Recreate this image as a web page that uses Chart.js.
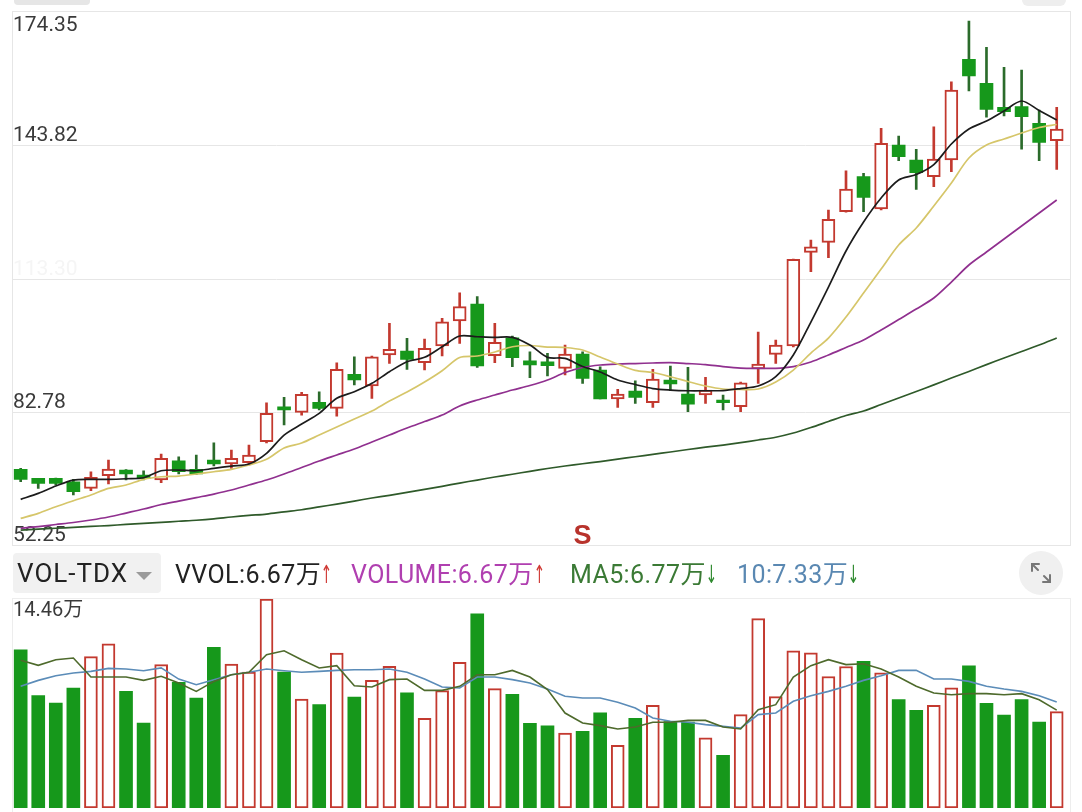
<!DOCTYPE html>
<html>
<head>
<meta charset="utf-8">
<script src="https://cdn.jsdelivr.net/npm/chart.js@4.4.0/dist/chart.umd.min.js"></script>
<style>
  body { margin: 0; background: #fff; width: 1082px; height: 812px; overflow: hidden; position: relative;
         font-family: Roboto, "Noto Sans CJK SC", sans-serif; }
  canvas { position: absolute; left: 0; }
  #main { top: 0; }
  #vol { top: 590px; }
  .pill { position: absolute; background: #e6e6e6; border-radius: 4px; }
  .box { position: absolute; left: 13px; top: 553px; width: 148px; height: 40px; background: #f1f1f1; border-radius: 4px; }
  .t { position: absolute; top: 562px; font-size: 25px; line-height: 25px; white-space: nowrap; letter-spacing: 0.4px; }
  .ar { display: inline-block; transform: scaleX(0.55); margin-left: -5px; font-family: "DejaVu Sans", sans-serif; }
  .tri { position: absolute; left: 136px; top: 572px; width: 0; height: 0;
         border-left: 8px solid transparent; border-right: 8px solid transparent; border-top: 8px solid #9a9a9a; }
  .expand { position: absolute; left: 1019px; top: 551px; width: 44px; height: 44px; border-radius: 50%; background: #f0f0f0; }
</style>
</head>
<body>
<div class="pill" style="left:14px;top:-4px;width:76px;height:9px;"></div>
<div class="pill" style="left:1022px;top:-6px;width:44px;height:12px;border-radius:6px;background:#eeeeee;"></div>

<canvas id="main" width="1082" height="560"></canvas>

<div class="box"></div>
<div class="t" style="left:17px;top:561px;font-size:26px;letter-spacing:1px;color:#222;">VOL-TDX</div>
<div class="tri"></div>
<div class="t" style="left:175px;color:#222;">VVOL:6.67万<span class="ar" style="color:#d03a35">↑</span></div>
<div class="t" style="left:351px;color:#b03fb0;">VOLUME:6.67万<span class="ar" style="color:#d03a35">↑</span></div>
<div class="t" style="left:570px;color:#3b7a35;">MA5:6.77万<span class="ar" style="color:#2f8a2f">↓</span></div>
<div class="t" style="left:737px;color:#5a88b2;">10:7.33万<span class="ar" style="color:#2f8a2f">↓</span></div>
<div class="expand">
  <svg width="44" height="44" viewBox="0 0 44 44">
    <g stroke="#777" stroke-width="2" fill="none" stroke-linecap="round">
      <polyline points="13,20 13,13 20,13"/><line x1="13" y1="13" x2="19" y2="19"/>
      <polyline points="31,24 31,31 24,31"/><line x1="31" y1="31" x2="25" y2="25"/>
    </g>
  </svg>
</div>

<canvas id="vol" width="1082" height="222"></canvas>

<script>
// candles
var opens = [69.58,67.52,67.52,66.74,65.23,68.12,69.42,68.28,67.13,71.55,69.58,71.71,70.80,71.10,75.91,83.93,82.64,84.93,83.56,91.35,88.67,95.77,96.69,94.01,97.83,103.56,107.45,95.61,99.73,94.46,94.23,92.72,96.00,92.33,85.69,87.52,84.84,90.04,86.83,86.61,85.46,83.93,92.56,95.93,97.83,119.30,121.59,128.60,136.62,129.22,143.88,140.44,136.62,140.44,163.51,158.02,152.52,152.66,148.85,144.87];
var highs = [69.81,67.52,67.60,67.29,69.03,71.71,69.50,69.26,73.09,72.47,72.86,75.68,74.00,75.15,84.84,86.08,87.22,87.36,94.01,95.38,95.54,103.03,99.60,99.44,104.18,110.04,109.13,103.03,100.12,96.53,96.16,98.06,96.53,93.09,87.91,89.88,92.49,93.25,92.95,90.66,86.61,89.60,101.04,99.21,117.75,122.12,128.99,137.99,137.40,147.71,145.94,142.90,148.07,158.38,172.29,166.26,161.68,161.06,151.90,152.52];
var lows = [66.74,65.23,65.99,63.70,64.68,66.22,67.13,67.13,66.51,68.51,68.40,70.34,69.81,70.57,75.61,79.73,82.02,83.17,81.79,88.90,85.85,93.87,92.49,92.33,95.54,98.45,92.95,94.01,93.09,90.57,90.96,91.19,89.29,85.69,83.79,84.70,83.79,87.59,82.78,84.70,83.17,82.78,89.29,93.87,97.60,114.85,118.06,128.50,128.60,129.00,140.28,133.73,134.33,137.76,156.25,150.23,150.52,142.90,140.28,138.31];
var closes = [67.29,66.38,66.38,64.45,67.75,69.65,68.51,67.52,72.10,69.03,68.51,70.80,72.10,72.86,82.41,83.17,86.77,83.56,92.49,90.04,95.38,97.08,94.78,97.30,103.40,106.84,93.25,98.68,95.15,93.48,93.32,96.00,90.43,85.69,86.83,86.08,90.27,89.13,84.54,87.75,84.84,89.42,93.71,98.06,117.69,120.58,126.86,133.80,131.90,144.27,141.20,137.53,140.67,156.48,159.69,152.06,151.51,150.36,144.50,147.55];

// price moving averages (as drawn)
var ma5 = [62.71,64.08,65.76,67.13,67.29,67.29,67.43,67.66,69.26,69.42,69.26,69.81,70.34,70.80,73.25,77.44,79.96,82.41,85.85,87.36,89.29,91.94,94.23,95.24,97.67,100.12,99.96,99.82,99.82,98.06,95.24,95.00,93.13,91.88,90.04,89.01,88.09,87.75,87.59,87.59,87.63,88.09,88.67,90.80,95.77,103.33,111.35,119.60,126.24,131.74,135.86,137.12,139.41,144.11,147.55,149.38,151.67,153.96,151.78,149.61];
var ma10 = [58.36,59.50,61.02,62.39,63.70,65.23,65.99,67.29,67.89,68.05,68.51,69.03,69.58,70.57,71.87,74.46,75.61,77.44,79.27,81.11,82.94,85.23,87.29,89.58,92.17,95.20,95.54,96.46,97.67,97.95,97.60,97.49,96.91,95.31,93.71,92.26,91.76,90.80,89.70,88.67,87.98,87.87,87.98,89.58,92.33,96.23,99.66,104.48,109.97,115.47,120.97,124.87,129.91,135.17,140.90,143.88,145.26,146.63,147.89,148.58];
var ma20 = [56.07,56.48,56.94,57.40,57.97,58.66,59.57,60.49,61.52,62.32,63.12,63.92,64.84,65.99,67.13,68.51,70.00,71.48,72.86,74.24,75.84,77.44,79.05,80.53,82.02,84.09,85.46,86.61,87.75,88.78,90.04,91.76,92.91,93.48,93.71,93.82,93.94,94.01,93.82,93.59,93.13,92.79,92.72,92.72,93.13,94.17,95.77,97.49,99.21,101.50,103.90,106.31,108.83,112.49,116.39,119.37,122.35,125.32,128.30,131.28];
var ma60 = [55.68,55.88,56.09,56.30,56.50,56.71,56.96,57.21,57.44,57.69,57.92,58.24,58.66,59.02,59.34,59.85,60.33,60.97,61.63,62.32,63.01,63.63,64.31,65.00,65.69,66.44,67.13,67.82,68.46,69.13,69.77,70.34,70.87,71.37,71.94,72.47,73.02,73.55,74.12,74.65,75.15,75.72,76.30,76.94,77.90,79.16,80.54,81.91,82.94,84.43,85.92,87.41,88.94,90.50,92.01,93.57,95.08,96.57,98.06,99.66];

// volume (万) and its averages
var vols = [10.95,7.77,7.26,8.30,10.47,11.35,8.07,5.88,9.92,8.69,7.61,11.11,9.96,9.41,14.46,9.41,7.54,7.15,10.72,7.68,8.83,9.80,7.96,6.20,8.12,10.08,13.44,8.26,7.86,5.86,5.68,5.18,5.30,6.58,4.34,6.20,7.10,5.98,5.95,4.86,3.65,6.46,13.10,7.71,10.88,10.74,9.10,9.79,10.15,9.35,7.50,6.76,7.10,8.31,9.83,7.25,6.43,7.50,5.95,6.67];
var vma5 = [10.22,9.87,10.26,10.38,9.06,9.06,9.06,8.83,9.11,8.65,8.07,8.76,9.22,9.39,10.61,10.88,10.26,9.69,9.85,8.46,8.37,8.88,8.92,8.14,8.14,8.42,9.22,9.22,9.52,9.06,8.19,6.57,5.88,5.70,5.47,5.60,5.93,5.93,6.06,6.06,5.60,5.47,6.80,7.15,9.06,9.85,10.26,9.92,9.98,9.62,9.06,8.42,7.96,7.84,7.91,7.91,7.84,7.91,7.49,6.77];
var vma10 = [8.42,8.83,9.15,9.34,9.45,9.66,9.62,9.50,9.69,8.92,8.53,8.88,9.22,9.39,9.62,9.50,9.39,9.45,9.52,9.57,9.57,9.62,9.39,8.92,8.37,8.30,9.06,9.06,8.88,8.65,8.23,7.73,7.61,7.61,7.31,6.92,6.23,6.00,5.93,5.77,5.65,5.53,6.46,6.57,7.38,7.77,8.07,8.42,8.83,9.15,9.52,9.52,8.92,8.92,8.76,8.42,8.23,8.07,7.77,7.33];

// axis labels
var priceTicks = [174.35, 143.82, 113.30, 82.78, 52.25];
var priceTickLabels = ['174.35', '143.82', '113.30', '82.78', '52.25'];
var volMax = 14.46;
var volTopLabel = '14.46万';
var signalIndex = 32;
var signalText = 'S';

var days = opens.map(function (o, i) { return 'D' + (i + 1); });

var RED = '#c3392f';
var GREEN = '#16981b';
var GREEN_WICK = '#2b6b2b';
var isUp = closes.map(function (c, i) { return c >= opens[i]; });

var priceDecor = {
  id: 'priceDecor',
  beforeDatasetsDraw: function (chart) {
    var ctx = chart.ctx, y = chart.scales.y;
    ctx.save();
    ctx.strokeStyle = '#e6e6e6';
    ctx.lineWidth = 1;
    ctx.strokeRect(12.5, 11.5, 1058, 534);
    ctx.font = '21px Roboto, sans-serif';
    ctx.textBaseline = 'alphabetic';
    priceTicks.forEach(function (v, i) {
      var py = Math.round(y.getPixelForValue(v)) + 0.5;
      if (i > 0 && i < priceTicks.length - 1) {
        ctx.beginPath(); ctx.moveTo(12, py); ctx.lineTo(1070, py); ctx.stroke();
      }
      // the middle label is almost washed out in the original
      ctx.fillStyle = i === 2 ? '#f5f5f5' : '#3a3a3a';
      ctx.fillText(priceTickLabels[i], 13, i === 0 ? py + 18 : py - 5);
    });
    ctx.restore();
  },
  afterDatasetsDraw: function (chart) {
    var ctx = chart.ctx, x = chart.scales.x;
    ctx.save();
    ctx.fillStyle = '#b8332c';
    ctx.font = 'bold 27px "Liberation Sans", Arial, sans-serif';
    ctx.textAlign = 'center';
    ctx.fillText(signalText, x.getPixelForValue(signalIndex), 544);
    ctx.restore();
  }
};

var volDecor = {
  id: 'volDecor',
  beforeDatasetsDraw: function (chart) {
    var ctx = chart.ctx, y = chart.scales.y;
    ctx.save();
    ctx.strokeStyle = '#ededed';
    ctx.lineWidth = 1;
    ctx.strokeRect(12.5, 8.5, 1058, 230);
    ctx.fillStyle = '#3a3a3a';
    ctx.font = '20px Roboto, "Noto Sans CJK SC", sans-serif';
    ctx.textBaseline = 'top';
    ctx.fillText(volTopLabel, 13, y.getPixelForValue(volMax) + 2);
    ctx.restore();
  }
};

function maLine(data, color, width) {
  return { type: 'line', data: data, borderColor: color, borderWidth: width, pointRadius: 0,
           tension: 0.3, fill: false, order: 0 };
}

new Chart(document.getElementById('main'), {
  type: 'bar',
  data: {
    labels: days,
    datasets: [
      maLine(ma5, '#1c1c1c', 1.7),
      maLine(ma10, '#d6c66a', 1.7),
      maLine(ma20, '#90308f', 1.7),
      maLine(ma60, '#2f5a2a', 1.7),
      {
        data: opens.map(function (o, i) { return [Math.min(o, closes[i]), Math.max(o, closes[i])]; }),
        backgroundColor: isUp.map(function (u) { return u ? '#ffffff' : GREEN; }),
        borderColor: isUp.map(function (u) { return u ? RED : GREEN; }),
        borderWidth: isUp.map(function (u) { return u ? 2 : 0; }),
        borderSkipped: false, barThickness: 13, grouped: false, order: 2
      },
      {
        data: lows.map(function (l, i) { return [l, highs[i]]; }),
        backgroundColor: isUp.map(function (u) { return u ? RED : GREEN_WICK; }),
        barThickness: 2, grouped: false, order: 3
      }
    ]
  },
  options: {
    responsive: false, animation: false, events: [],
    layout: { padding: { left: 11.9, right: 16.5, top: 12, bottom: 15 } },
    plugins: { legend: { display: false }, tooltip: { enabled: false } },
    scales: {
      x: { display: false, offset: true },
      y: { display: false, min: 52.25, max: 174.35 }
    }
  },
  plugins: [priceDecor]
});

new Chart(document.getElementById('vol'), {
  type: 'bar',
  data: {
    labels: days,
    datasets: [
      { type: 'line', data: vma5, borderColor: '#4e6a2c', borderWidth: 1.6, pointRadius: 0, tension: 0, order: 0 },
      { type: 'line', data: vma10, borderColor: '#5b8cb8', borderWidth: 1.6, pointRadius: 0, tension: 0, order: 0 },
      {
        data: vols,
        backgroundColor: isUp.map(function (u) { return u ? '#ffffff' : GREEN; }),
        borderColor: isUp.map(function (u) { return u ? RED : GREEN; }),
        borderWidth: isUp.map(function (u) { return u ? 2 : 0; }),
        borderSkipped: false, barThickness: 13, grouped: false, order: 2
      }
    ]
  },
  options: {
    responsive: false, animation: false, events: [],
    layout: { padding: { left: 11.9, right: 16.5, top: 9, bottom: 4 } },
    plugins: { legend: { display: false }, tooltip: { enabled: false } },
    scales: {
      x: { display: false, offset: true },
      y: { display: false, min: 0, max: volMax }
    }
  },
  plugins: [volDecor]
});
</script>
</body>
</html>
